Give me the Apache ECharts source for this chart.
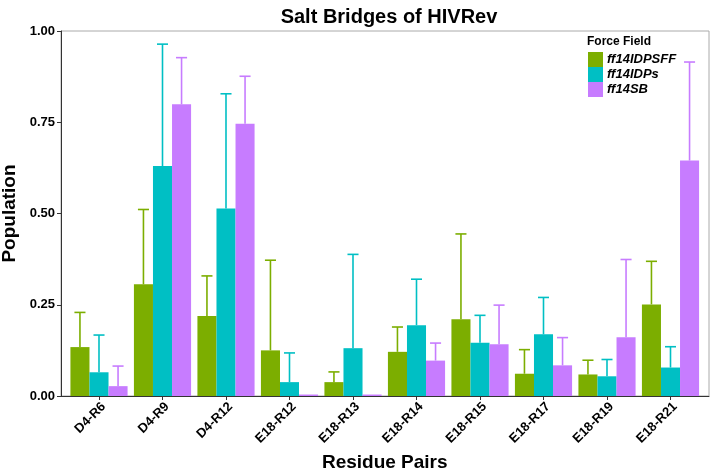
<!DOCTYPE html>
<html>
<head>
<meta charset="utf-8">
<script src="https://cdn.jsdelivr.net/npm/echarts@6/dist/echarts.min.js"></script>
<style>
  html, body { margin: 0; padding: 0; background: #fff; }
  #SaltChart { width: 714px; height: 474px; }
</style>
</head>
<body>
<div id="SaltChart"></div>
<script>
// residue pairs on the x axis
const pairs = ['D4-R6', 'D4-R9', 'D4-R12', 'E18-R12', 'E18-R13', 'E18-R14', 'E18-R15', 'E18-R17', 'E18-R19', 'E18-R21'];
const fieldNames = ['ff14IDPSFF', 'ff14IDPs', 'ff14SB'];
const colorList = ['#7CAE00', '#00BFC4', '#C77CFF'];

// mean population per force field
const meanIDPSFF = [0.134, 0.306, 0.219, 0.125, 0.038, 0.121, 0.210, 0.061, 0.059, 0.251];
const meanIDPs   = [0.065, 0.630, 0.514, 0.038, 0.131, 0.194, 0.146, 0.169, 0.054, 0.078];
const meanSB     = [0.027, 0.799, 0.746, 0.004, 0.004, 0.097, 0.142, 0.084, 0.161, 0.645];

// top of the error bar (mean + sd)
const upperIDPSFF = [0.229, 0.511, 0.329, 0.372, 0.066, 0.189, 0.444, 0.127, 0.098, 0.369];
const upperIDPs   = [0.167, 0.964, 0.828, 0.118, 0.388, 0.320, 0.221, 0.270, 0.100, 0.135];
const upperSB     = [0.082, 0.927, 0.876, 0.004, 0.004, 0.145, 0.249, 0.160, 0.374, 0.915];

const yTicks = [0, 0.25, 0.5, 0.75, 1];

const means = [meanIDPSFF, meanIDPs, meanSB];
const uppers = [upperIDPSFF, upperIDPs, upperSB];
const font = '"Liberation Sans", Arial, sans-serif';

let series = [];
for (let i = 0; i < 3; i++) {
    series.push({
        name: fieldNames[i],
        type: 'bar',
        xAxisIndex: 1,
        yAxisIndex: 1,
        data: means[i],
        barGap: '0%',
        barCategoryGap: '10%',
        itemStyle: { color: colorList[i] },
        silent: true
    });
}
for (let i = 0; i < 3; i++) {
    let errData = [];
    for (let j = 0; j < pairs.length; j++) {
        errData.push([j, means[i][j], uppers[i][j]]);
    }
    series.push({
        name: 'err' + i,
        type: 'custom',
        xAxisIndex: 1,
        yAxisIndex: 1,
        data: errData,
        z: 3,
        silent: true,
        renderItem: function (params, api) {
            if (api.value(2) - api.value(1) < 0.002) return;
            let bandW = api.size([1, 0])[0];
            let barW = bandW * 0.9 / 3;
            let low = api.coord([api.value(0), api.value(1)]);
            let high = api.coord([api.value(0), api.value(2)]);
            let x = low[0] + (i - 1) * barW;
            let cap = barW * 0.29;
            let style = { stroke: colorList[i], lineWidth: 1.6 };
            return {
                type: 'group',
                children: [
                    { type: 'line', shape: { x1: x, y1: low[1], x2: x, y2: high[1] }, style: style },
                    { type: 'line', shape: { x1: x - cap, y1: high[1], x2: x + cap, y2: high[1] }, style: style }
                ]
            };
        }
    });
}

const chart = echarts.init(document.getElementById('SaltChart'));
chart.setOption({
    animation: false,
    textStyle: { fontFamily: font },
    title: [{
        text: 'Salt Bridges of HIVRev',
        left: 384,
        textAlign: 'center',
        top: 2,
        textStyle: { fontSize: 20, fontWeight: 'bold', color: '#000', fontFamily: font }
    }, {
        text: 'Force Field',
        left: 587,
        top: 36,
        padding: 0,
        textStyle: { fontSize: 12, fontWeight: 'bold', color: '#000', fontFamily: font }
    }],
    legend: {
        data: fieldNames,
        orient: 'vertical',
        left: 588,
        top: 52,
        itemWidth: 15,
        itemHeight: 15,
        itemGap: 0,
        icon: 'rect',
        selectedMode: false,
        padding: 0,
        textStyle: { fontSize: 13, fontWeight: 'bold', fontStyle: 'italic', color: '#000', fontFamily: font, padding: [0, 0, 0, -1] }
    },
    grid: [{
        left: 61, right: 5, top: 31, bottom: 78,
        outerBoundsMode: 'none',
        containLabel: false,
        show: true, borderColor: '#aaaaaa', borderWidth: 1
    }, {
        left: 67.25, right: 11.75, top: 31, bottom: 78,
        outerBoundsMode: 'none',
        containLabel: false
    }],
    xAxis: [{
        type: 'value',
        gridIndex: 0,
        min: 0,
        max: 1,
        axisLine: { show: true, lineStyle: { color: '#333', width: 1 } },
        axisTick: { show: false },
        axisLabel: { show: false },
        splitLine: { show: false }
    }, {
        type: 'category',
        gridIndex: 1,
        data: pairs,
        name: 'Residue Pairs',
        nameLocation: 'middle',
        nameGap: 57,
        nameTextStyle: { fontSize: 19, fontWeight: 'bold', color: '#000', fontFamily: font },
        axisLine: { show: false },
        axisTick: { show: true, alignWithLabel: true, length: 4, lineStyle: { color: '#333' } },
        axisLabel: {
            rotate: 45, margin: 4, fontSize: 13, fontWeight: 'bold', color: '#000', interval: 0,
            align: 'right', verticalAlign: 'top'
        },
        splitLine: { show: false }
    }],
    yAxis: [{
        type: 'value',
        gridIndex: 0,
        min: 0,
        max: 1,
        interval: 0.25,
        name: 'Population',
        nameLocation: 'middle',
        nameGap: 38,
        nameTextStyle: { fontSize: 19, fontWeight: 'bold', color: '#000', fontFamily: font },
        axisLine: { show: true, lineStyle: { color: '#333', width: 1 } },
        axisTick: { show: true, length: 4, lineStyle: { color: '#333' } },
        axisLabel: {
            margin: 6, fontSize: 13, fontWeight: 'bold', color: '#000',
            formatter: function (v) { return yTicks.indexOf(v) >= 0 ? v.toFixed(2) : ''; }
        },
        splitLine: { show: false }
    }, {
        type: 'value',
        gridIndex: 1,
        min: 0,
        max: 1,
        show: false,
        splitLine: { show: false }
    }],
    series: series
});
</script>
</body>
</html>
